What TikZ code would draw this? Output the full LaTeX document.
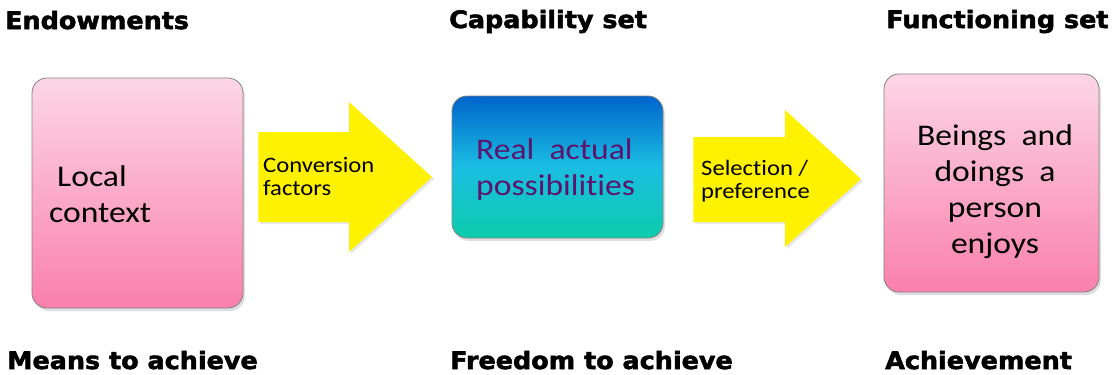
\documentclass[tikz,border=0pt]{standalone}
\usepackage{fontspec}
\usetikzlibrary{shadows}
\newfontfamily\hdrfont[BoldFeatures={FakeBold=2.2,FakeStretch=1.06}]{DejaVu Sans}
\newfontfamily\calib[FakeStretch=1.12,Ligatures=CommonOff]{Carlito}
\definecolor{pinktop}{RGB}{252,214,230}
\definecolor{pinkbot}{RGB}{250,128,172}
\definecolor{bluetop}{RGB}{0,100,204}
\definecolor{bluemid}{RGB}{26,190,226}
\definecolor{bluebot}{RGB}{12,204,170}
\definecolor{purpletxt}{RGB}{92,20,110}
\definecolor{edgegray}{RGB}{130,130,130}
\tikzset{
  hdr/.style={anchor=base west, inner sep=0pt, font=\hdrfont\bfseries\fontsize{24}{28}\selectfont},
  boxbase/.style={draw=edgegray, line width=0.8pt, rounded corners=15pt, inner sep=0pt,
    drop shadow={shadow xshift=2pt, shadow yshift=-3pt, opacity=0.25}},
  pinkbox/.style={boxbase, top color=pinktop, bottom color=pinkbot},
  bluebox/.style={boxbase, top color=bluetop, bottom color=bluebot, middle color=bluemid},
  yarrow/.style={fill=yellow, draw=none,
    drop shadow={shadow xshift=2pt, shadow yshift=-2pt, opacity=0.2}},
  bigtxt/.style={inner sep=0pt, font=\calib\fontsize{30}{36}\selectfont},
  smalltxt/.style={inner sep=0pt, align=left, anchor=base west, font=\calib\fontsize{22}{23}\selectfont}
}
\begin{document}
\begin{tikzpicture}[x=1pt, y=-1pt]
\useasboundingbox (0,0) rectangle (1120,375);
% headers
\node[hdr] (h1) at (5,29) {Endowments};
\node[hdr] (h2) at (449,28) {Capability set};
\node[hdr] (h3) at (886,28) {Functioning set};
\node[hdr] (f1) at (7,369) {Means to achieve};
\node[hdr] (f2) at (450,369) {Freedom to achieve};
\node[hdr] (f3) at (885,369) {Achievement};
% boxes
\node[pinkbox, minimum width=211pt, minimum height=230pt] (loc) at (137.5,193) {};
\node[bluebox, minimum width=211pt, minimum height=142pt] (cap) at (557.5,167) {};
\node[pinkbox, minimum width=215pt, minimum height=218pt] (fun) at (991.5,183) {};
% box texts (base = baseline of last line)
\node[bigtxt, anchor=base west, align=left] (loct) at (49,222)
  {\hspace*{8pt}Local\\context};
\node[bigtxt, anchor=base west, align=left, text=purpletxt] (capt) at (476,195)
  {Real\ \ actual\\possibilities};
\node[bigtxt, anchor=base, align=center] (funt) at (995,253)
  {Beings\ \ and\\doings\ \ a\\person\\enjoys};
% block arrows
\coordinate (a1t) at ([xshift=15pt]loc.east |- 0,177);
\path[yarrow] (a1t |- 0,132) -- (349,132) -- (349,102) -- (432,177) -- (349,252)
  -- (349,222) -- (a1t |- 0,222) -- cycle;
\node[smalltxt] (a1l) at (263,195) {Conversion\\factors};
\coordinate (a2t) at ([xshift=30pt]cap.east |- 0,179);
\path[yarrow] (a2t |- 0,137) -- (785,137) -- (785,110) -- (861,179) -- (785,247)
  -- (785,222) -- (a2t |- 0,222) -- cycle;
\node[smalltxt] (a2l) at (701,198) {Selection /\\preference};
\end{tikzpicture}
\end{document}
